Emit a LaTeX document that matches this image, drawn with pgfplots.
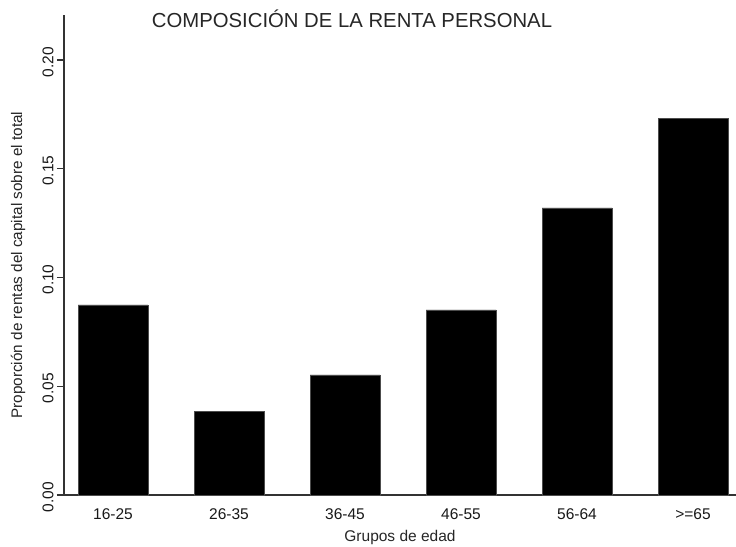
\documentclass[border=0pt]{standalone}
\usepackage{pgfplots}
\pgfplotsset{compat=1.18}
\usepackage{fontspec}
\setmainfont{Liberation Sans}
\definecolor{axisgray}{HTML}{333333}
\begin{document}
\begin{tikzpicture}[x=1pt,y=1pt]
\path[use as bounding box] (0,0) rectangle (736,546);
\begin{axis}[
  at={(64pt,51pt)}, anchor=south west,
  scale only axis, width=672pt, height=480pt,
  xmin=-0.4224, xmax=5.3707, ymin=0, ymax=0.2207,
  axis x line=bottom, axis y line=left,
  axis line style={-, axisgray, line width=1.3pt},
  xtick=data,
  xticklabels={16-25,26-35,36-45,46-55,56-64,>=65},
  ytick={0,0.05,0.10,0.15,0.20},
  yticklabels={0.00,0.05,0.10,0.15,0.20},
  /pgf/number format/assume math mode=true,
  tick align=outside,
  major tick length=7pt,
  x tick style={draw=none},
  y tick style={axisgray, line width=1.3pt},
  ticklabel style={font=\fontsize{15.5}{17}\selectfont, text=black!90},
  yticklabel style={rotate=90, anchor=south, xshift=-2pt},
  xticklabel style={yshift=-3pt},
  title={COMPOSICIÓN DE LA RENTA PERSONAL},
  title style={at={(axis description cs:0.4286,0.98)}, anchor=center,
    font=\fontsize{20.3}{22}\selectfont, text=black!85},
  xlabel={Grupos de edad},
  xlabel style={at={(axis description cs:0.5,-0.0875)}, anchor=center,
    font=\fontsize{15.5}{17}\selectfont, text=black!85},
  ylabel={Proporción de rentas del capital sobre el total},
  ylabel style={at={(axis description cs:-0.0685,0.479)}, anchor=center, rotate=0,
    font=\fontsize{15.3}{17}\selectfont, text=black!85},
  clip=false,
]
\addplot[ybar, bar width=0.6034, fill=black, draw=black!70] coordinates {
  (0,0.0874) (1,0.0386) (2,0.0552) (3,0.0851) (4,0.1320) (5,0.1733)
};
\end{axis}
\end{tikzpicture}
\end{document}
